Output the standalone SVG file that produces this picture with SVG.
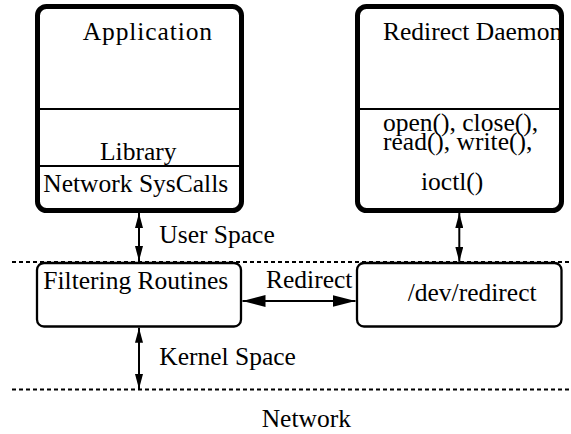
<svg xmlns="http://www.w3.org/2000/svg" width="571" height="434" viewBox="0 0 571 434">
<style>
.t{font-size:25.5px;fill:#000}
.big{fill:#fff;stroke:#000;stroke-width:5}
.small{fill:#fff;stroke:#000;stroke-width:2.3}
.div{stroke:#000;stroke-width:2}
.dash{stroke:#000;stroke-width:2;stroke-dasharray:4 3;fill:none}
.conn{stroke:#000;stroke-width:2;fill:none}
</style>
<defs>
<marker id="av" markerUnits="userSpaceOnUse" markerWidth="16" markerHeight="8" refX="15" refY="4" orient="auto-start-reverse" viewBox="0 0 16 8">
<path d="M0,0 L15,4 L0,8 Z" fill="#000"/>
</marker>
<marker id="ah" markerUnits="userSpaceOnUse" markerWidth="24" markerHeight="12" refX="23" refY="6" orient="auto-start-reverse" viewBox="0 0 24 12">
<path d="M0,0 L23,6 L0,12 Z" fill="#000"/>
</marker>
<clipPath id="dclip"><rect x="360" y="9" width="199" height="199"/></clipPath>
</defs>
<g id="separators">
<line class="dash" x1="12" y1="262" x2="571" y2="262"/>
<line class="dash" x1="12" y1="389.5" x2="571" y2="389.5"/>
</g>
<g id="application">
<rect class="big" x="37.5" y="6.5" width="204" height="204" rx="9"/>
<line class="div" x1="40" y1="109" x2="239" y2="109"/>
<line class="div" x1="40" y1="166" x2="239" y2="166"/>
<text class="t" font-family="Times New Roman" x="82.7" y="40" font-size="26" letter-spacing="0.9">Application</text>
<text class="t" font-family="Times New Roman" x="100" y="160">Library</text>
<text class="t" font-family="Tinos" x="43.3" y="191.5">Network SysCalls</text>
</g>
<g id="daemon">
<rect class="big" x="357.5" y="6.5" width="204" height="204" rx="9"/>
<line class="div" x1="360" y1="109" x2="559" y2="109"/>
<text class="t" font-family="serif" x="383" y="40" clip-path="url(#dclip)">Redirect Daemon</text>
<text class="t" font-family="Times" x="383" y="130.5">open(), close(),</text>
<text class="t" font-family="Times" x="383" y="150">read(), write(),</text>
<text class="t" font-family="Liberation Serif" x="421" y="190">ioctl()</text>
</g>
<g id="filtering">
<rect class="small" x="37" y="263" width="204" height="63.5" rx="7"/>
<text class="t" font-family="LiberationSerif" x="43.3" y="288.5">Filtering Routines</text>
</g>
<g id="devredirect">
<rect class="small" x="357" y="263" width="204.5" height="63.5" rx="7"/>
<text class="t" font-family="Liberation Serif" x="407.7" y="301">/dev/redirect</text>
</g>
<g id="connectors">
<line class="conn" x1="139" y1="213" x2="139" y2="261" marker-start="url(#av)" marker-end="url(#av)"/>
<line class="conn" x1="139" y1="327.8" x2="139" y2="389" marker-start="url(#av)" marker-end="url(#av)"/>
<line class="conn" x1="459.3" y1="213" x2="459.3" y2="261.8" marker-start="url(#av)" marker-end="url(#av)"/>
<line class="conn" x1="242.5" y1="301" x2="355.5" y2="301" marker-start="url(#ah)" marker-end="url(#ah)"/>
</g>
<g id="labels">
<text class="t" font-family="Times New Roman" x="159.3" y="243.3">User Space</text>
<text class="t" font-family="Tinos" x="159.3" y="365">Kernel Space</text>
<text class="t" font-family="Times" x="266" y="288">Redirect</text>
<text class="t" font-family="serif" x="261.7" y="427.3">Network</text>
</g>
</svg>
